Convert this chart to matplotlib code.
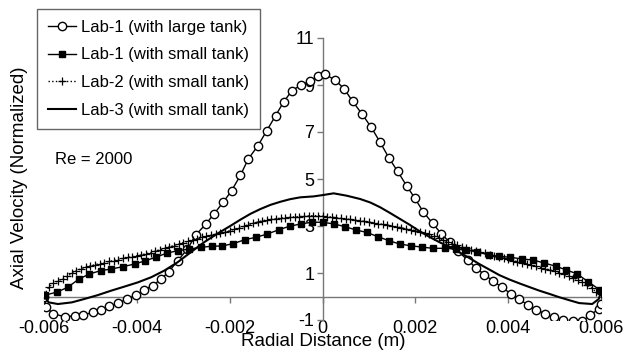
import numpy as np
import matplotlib
matplotlib.use('Agg')
from matplotlib import pyplot as plt

plt.rcParams['font.family'] = ['Liberation Sans', 'DejaVu Sans']
plt.rcParams['axes.unicode_minus'] = False

# Lab-1 (with large tank)
lg_x = [-0.00600, -0.00595, -0.00580, -0.00555, -0.00534, -0.00516, -0.00494, -0.00477,
        -0.00459, -0.00441, -0.00421, -0.00401, -0.00384, -0.00366, -0.00348, -0.00331,
        -0.00312, -0.00291, -0.00273, -0.00251, -0.00234, -0.00214, -0.00196, -0.00177,
        -0.00160, -0.00139, -0.00120, -0.00101, -0.00084, -0.00066, -0.00046, -0.00026,
        -0.00010, 0.00006, 0.00028, 0.00047, 0.00065, 0.00085, 0.00105, 0.00124,
        0.00143, 0.00162, 0.00181, 0.00199, 0.00217, 0.00237, 0.00256, 0.00274,
        0.00292, 0.00313, 0.00331, 0.00349, 0.00368, 0.00387, 0.00406, 0.00424,
        0.00442, 0.00461, 0.00480, 0.00499, 0.00518, 0.00540, 0.00560, 0.00577,
        0.00595, 0.00600]
lg_y = [0.00, -0.46, -0.74, -0.86, -0.82, -0.79, -0.67, -0.56, -0.42, -0.29,
        -0.10, 0.06, 0.29, 0.46, 0.74, 1.06, 1.52, 2.02, 2.62, 3.09,
        3.51, 4.01, 4.50, 5.15, 5.85, 6.42, 7.06, 7.70, 8.27, 8.76,
        9.00, 9.18, 9.38, 9.45, 9.20, 8.83, 8.30, 7.77, 7.20, 6.57,
        5.90, 5.32, 4.72, 4.18, 3.60, 3.12, 2.67, 2.31, 1.92, 1.55,
        1.21, 0.93, 0.65, 0.39, 0.11, -0.11, -0.36, -0.57, -0.74, -0.89,
        -0.98, -1.06, -1.04, -0.79, -0.53, -0.30]

# Lab-1 (with small tank)
sm_x = [-0.00598, -0.00573, -0.00549, -0.00525, -0.00502, -0.00478, -0.00455, -0.00430,
        -0.00405, -0.00382, -0.00359, -0.00335, -0.00311, -0.00287, -0.00262, -0.00239,
        -0.00216, -0.00192, -0.00167, -0.00143, -0.00119, -0.00094, -0.00071, -0.00046,
        -0.00023, 0.00000, 0.00024, 0.00049, 0.00072, 0.00095, 0.00120, 0.00144,
        0.00167, 0.00190, 0.00215, 0.00238, 0.00263, 0.00287, 0.00309, 0.00332,
        0.00358, 0.00381, 0.00404, 0.00430, 0.00454, 0.00477, 0.00502, 0.00524,
        0.00549, 0.00572, 0.00597]
sm_y = [0.06, 0.18, 0.39, 0.74, 0.96, 1.10, 1.17, 1.27, 1.38, 1.52,
        1.67, 1.85, 1.95, 2.02, 2.09, 2.14, 2.15, 2.25, 2.42, 2.52,
        2.66, 2.84, 2.99, 3.09, 3.16, 3.16, 3.09, 2.97, 2.83, 2.73,
        2.54, 2.37, 2.23, 2.16, 2.10, 2.05, 2.05, 2.02, 1.98, 1.91,
        1.77, 1.71, 1.67, 1.60, 1.55, 1.43, 1.29, 1.14, 0.96, 0.63,
        0.29]

# Lab-2 (with small tank), sampled every 0.0001 m
l2_x = np.round(np.linspace(-0.006, 0.006, 121), 5)
l2_y = [0.06, 0.39, 0.56, 0.66, 0.76, 0.86, 0.98, 1.10, 1.18, 1.25,
        1.30, 1.35, 1.40, 1.44, 1.49, 1.53, 1.57, 1.62, 1.66, 1.69,
        1.73, 1.77, 1.82, 1.87, 1.93, 1.99, 2.05, 2.11, 2.17, 2.23,
        2.29, 2.35, 2.41, 2.46, 2.52, 2.56, 2.61, 2.65, 2.70, 2.75,
        2.80, 2.86, 2.92, 2.98, 3.05, 3.11, 3.17, 3.22, 3.26, 3.29,
        3.31, 3.33, 3.35, 3.37, 3.39, 3.40, 3.42, 3.43, 3.44, 3.44,
        3.42, 3.40, 3.38, 3.35, 3.33, 3.30, 3.28, 3.26, 3.23, 3.20,
        3.17, 3.13, 3.10, 3.07, 3.04, 3.00, 2.96, 2.93, 2.89, 2.85,
        2.80, 2.75, 2.70, 2.64, 2.58, 2.48, 2.40, 2.32, 2.25, 2.18,
        2.12, 2.06, 2.00, 1.94, 1.88, 1.83, 1.78, 1.73, 1.68, 1.63,
        1.58, 1.53, 1.48, 1.43, 1.38, 1.33, 1.28, 1.23, 1.18, 1.13,
        1.07, 1.01, 0.94, 0.87, 0.80, 0.71, 0.61, 0.49, 0.36, 0.18,
        0.10]

# Lab-3 (with small tank)
l3_x = [-0.00600, -0.00590, -0.00570, -0.00540, -0.00512, -0.00484, -0.00455, -0.00427,
        -0.00398, -0.00369, -0.00341, -0.00312, -0.00284, -0.00255, -0.00226, -0.00198,
        -0.00176, -0.00155, -0.00134, -0.00112, -0.00091, -0.00070, -0.00048, -0.00019,
        0.00002, 0.00024, 0.00052, 0.00081, 0.00103, 0.00124, 0.00145, 0.00167,
        0.00188, 0.00209, 0.00230, 0.00252, 0.00274, 0.00295, 0.00317, 0.00338,
        0.00360, 0.00381, 0.00403, 0.00424, 0.00446, 0.00467, 0.00489, 0.00510,
        0.00532, 0.00553, 0.00581, 0.00595, 0.00600]
l3_y = [0.03, -0.25, -0.32, -0.25, -0.10, 0.06, 0.25, 0.42, 0.60, 0.82,
        1.10, 1.46, 1.88, 2.31, 2.68, 3.01, 3.28, 3.52, 3.72, 3.90,
        4.03, 4.14, 4.22, 4.26, 4.32, 4.39, 4.29, 4.15, 4.00, 3.80,
        3.56, 3.30, 3.05, 2.78, 2.54, 2.31, 2.10, 1.88, 1.63, 1.38,
        1.14, 0.91, 0.72, 0.56, 0.40, 0.25, 0.11, -0.03, -0.16, -0.28,
        -0.32, -0.11, 0.18]

x_ticks = [-0.006, -0.004, -0.002, 0, 0.002, 0.004, 0.006]
x_tick_labels = ['-0.006', '-0.004', '-0.002', '0', '0.002', '0.004', '0.006']
y_ticks = [-1, 1, 3, 5, 7, 9, 11]

fig = plt.figure(figsize=(6.3, 3.53), dpi=100)
ax = fig.add_axes([44 / 630, 33 / 353, 557 / 630, 282 / 353])

ax.plot(lg_x, lg_y, color='black', lw=1, marker='o', ms=6, mfc='white',
        mec='black', mew=1, label='Lab-1 (with large tank)', zorder=3)
ax.plot(sm_x, sm_y, color='black', lw=1, marker='s', ms=4.5,
        label='Lab-1 (with small tank)', zorder=3)
ax.plot(l2_x, l2_y, color='black', lw=1, ls=':', marker='+', ms=6, mew=0.9,
        label='Lab-2 (with small tank)', zorder=3)
ax.plot(l3_x, l3_y, color='black', lw=1.5, label='Lab-3 (with small tank)', zorder=3)

ax.set_xlim(-0.006, 0.006)
ax.set_ylim(-1, 11)
ax.set_axisbelow(True)

for side in ['top', 'right']:
    ax.spines[side].set_visible(False)
ax.spines['left'].set_position(('data', 0))
ax.spines['bottom'].set_position(('data', 0))
for side in ['left', 'bottom']:
    ax.spines[side].set_color('#777777')
    ax.spines[side].set_linewidth(1)

ax.set_xticks(x_ticks)
ax.set_xticklabels(x_tick_labels)
ax.set_yticks(y_ticks)
ax.tick_params(axis='x', direction='out', length=4, width=1, color='#777777',
               pad=13, labelsize=13)
ax.tick_params(axis='y', direction='out', length=4, width=1, color='#777777',
               pad=2, labelsize=13)

fig.text(323 / 630, 1 - 342 / 353, 'Radial Distance (m)', ha='center', va='center',
         fontsize=13.5)
fig.text(20 / 630, 1 - 178 / 353, 'Axial Velocity (Normalized)', ha='center',
         va='center', rotation=90, fontsize=13.5)
fig.text(55 / 630, 1 - 159 / 353, 'Re = 2000', ha='left', va='center', fontsize=12)

leg = ax.legend(loc='upper left', bbox_to_anchor=(37 / 630, 1 - 9 / 353),
                bbox_transform=fig.transFigure, borderaxespad=0, fontsize=12,
                numpoints=1, handlelength=1.7, handletextpad=0.3, borderpad=0.65,
                labelspacing=0.76, fancybox=False, framealpha=1)
leg.get_frame().set_edgecolor('#666666')
leg.get_frame().set_linewidth(1)

plt.savefig('out.png', dpi=100)
